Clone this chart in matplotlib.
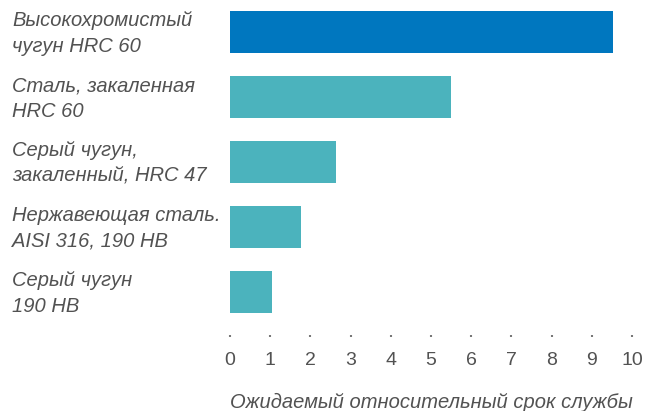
import matplotlib
matplotlib.use("Agg")
import matplotlib.pyplot as plt
from matplotlib.transforms import blended_transform_factory, offset_copy

plt.rcParams['font.family'] = ['Liberation Sans', 'DejaVu Sans']

# data
materials = [
    "Высокохромистый\nчугун HRC 60",
    "Сталь, закаленная\nHRC 60",
    "Серый чугун,\nзакаленный, HRC 47",
    "Нержавеющая сталь.\nAISI 316, 190 HB",
    "Серый чугун\n190 HB",
]
service_life = [9.53, 5.5, 2.64, 1.77, 1.04]
bar_colors = ["#0077BF", "#4BB3BD", "#4BB3BD", "#4BB3BD", "#4BB3BD"]
x_ticks = list(range(0, 11))
x_label = "Ожидаемый относительный срок службы"

text_color = "#525252"

W, H = 647, 411
fig = plt.figure(figsize=(W / 100, H / 100), dpi=100)
ax = fig.add_axes([230 / W, 76 / H, (632 - 230) / W, (H - 76) / H])

pos = list(range(len(materials)))
ax.barh(pos, service_life, height=0.646, color=bar_colors)

ax.set_xlim(0, 10)
ax.set_ylim(4.66, -0.49)
ax.set_xticks(x_ticks)
ax.set_xticklabels([str(t) for t in x_ticks], fontsize=14, color=text_color)
ax.tick_params(axis='x', length=1.5, width=1.5, color="#777777", pad=11)
ax.set_yticks([])
for s in ax.spines.values():
    s.set_visible(False)

# labels left-aligned at the figure edge, nudged down a little
tr = blended_transform_factory(fig.transFigure, ax.transData)
tr = offset_copy(tr, fig=fig, y=-1.5, units='dots')
for p, name in zip(pos, materials):
    ax.text(12 / W, p, name, transform=tr, ha='left', va='center',
            fontsize=14.5, style='italic', color=text_color, linespacing=1.43)

fig.text(431 / W, (H - 402) / H, x_label, ha='center', va='center',
         fontsize=14.5, style='italic', color=text_color)

fig.savefig("out.png", dpi=100)
